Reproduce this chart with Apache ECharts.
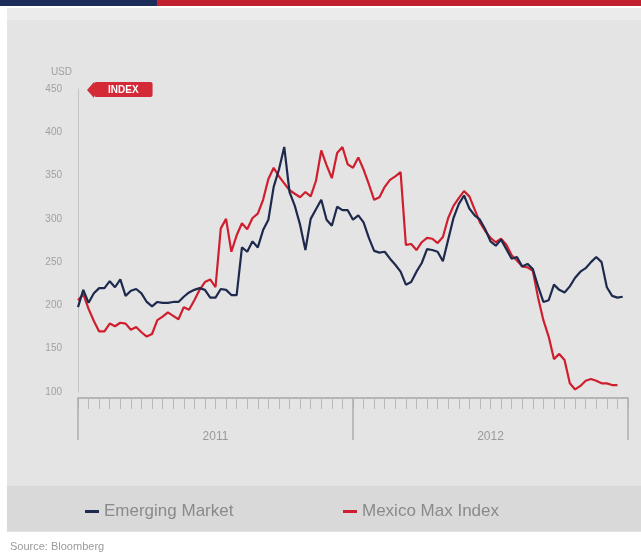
<!DOCTYPE html>
<html>
<head>
<meta charset="utf-8">
<script src="https://cdn.jsdelivr.net/npm/echarts@6/dist/echarts.min.js"></script>
<style>
  html, body { margin: 0; padding: 0; background: #ffffff; }
  #chart { width: 641px; height: 555px; }
</style>
</head>
<body>
<div id="chart"></div>
<script>
// Weekly index levels, two calendar years
const years = ['2011', '2012'];
const yTicks = [100, 150, 200, 250, 300, 350, 400, 450];

const emergingMarket = [
  198, 218, 203, 214, 220, 220, 228, 221, 230, 211,
  217, 219, 214, 204, 199, 204, 203, 203, 204, 204,
  210, 215, 218, 220, 218, 209, 209, 219, 218, 212,
  212, 267, 262, 274, 267, 287, 299, 337, 357, 383,
  331, 315, 293, 264, 300, 311, 322, 299, 292, 314,
  310, 310, 299, 304, 296, 278, 263, 261, 262, 254,
  247, 239, 224, 227, 239, 249, 265, 264, 262, 251,
  276, 301, 317, 327, 312, 304, 299, 288, 274, 269,
  276, 265, 254, 256, 245, 248, 242, 222, 204, 206,
  224, 218, 215, 222, 232, 239, 243, 250, 256, 250,
  221, 211, 209, 210
];

const maxIndex = [
  206, 213, 196, 182, 170, 170, 179, 176, 180, 179,
  172, 175, 169, 164, 167, 183, 187, 192, 188, 184,
  198, 195, 206, 218, 227, 230, 221, 289, 300, 262,
  281, 295, 288, 301, 306, 322, 346, 359, 349, 341,
  333, 329, 325, 331, 326, 344, 379, 362, 347, 376,
  383, 363, 359, 371, 357, 340, 322, 325, 337, 345,
  349, 354, 270, 271, 264, 273, 278, 277, 272, 279,
  301, 315, 324, 332, 326, 311, 296, 286, 278, 273,
  277, 270, 258, 252, 245, 244, 240, 209, 183, 164,
  138, 144, 137, 110, 103, 107, 113, 115, 113, 110,
  110, 108, 108
];

const seriesNames = ['Emerging Market', 'Mexico Max Index'];

// One category per week, Fridays from the first week of the first year
const weeks = [];
(function () {
  const d = new Date(Date.UTC(2011, 0, 7));
  for (let i = 0; i <= 104; i++) {
    weeks.push(d.toISOString().slice(0, 10));
    d.setUTCDate(d.getUTCDate() + 7);
  }
})();

const chart = echarts.init(document.getElementById('chart'), null, { renderer: 'canvas' });

const navy = '#1d2a4d';
const red = '#cf1f2e';
const labelGrey = '#a0a0a0';
const font = '"Liberation Sans", Arial, sans-serif';

chart.setOption({
  backgroundColor: '#ffffff',
  animation: false,
  graphic: [
    // chart panel
    { type: 'rect', z: -10, shape: { x: 7, y: 8, width: 634, height: 524 }, style: { fill: '#e4e4e4' } },
    { type: 'rect', z: -9, shape: { x: 7, y: 8, width: 634, height: 12 }, style: { fill: '#ebebeb' } },
    // legend band
    { type: 'rect', z: -9, shape: { x: 7, y: 486, width: 634, height: 45 }, style: { fill: '#d9d9d9' } },
    // header bars
    { type: 'rect', z: 10, shape: { x: 0, y: 0, width: 157, height: 6 }, style: { fill: '#1c2d5a' } },
    { type: 'rect', z: 10, shape: { x: 157, y: 0, width: 484, height: 6 }, style: { fill: '#c21f2f' } },
    // unit tag beside the value axis
    { type: 'polygon', z: 10, shape: { points: [[87, 90], [94, 82], [94, 98]] }, style: { fill: '#d42a38' } },
    {
      type: 'text', z: 10, left: 94, top: 82,
      style: {
        text: 'INDEX', fill: '#ffffff', font: 'bold 10px ' + font,
        backgroundColor: '#d42a38', padding: [3, 14, 2, 14], borderRadius: 2
      }
    },
    // source line
    {
      type: 'text', left: 10, top: 541,
      style: { text: 'Source: Bloomberg', fill: '#9a9a9a', font: '11px ' + font }
    }
  ],
  legend: [
    {
      data: [seriesNames[0]], left: 80, top: 498, icon: 'rect', itemWidth: 14, itemHeight: 3,
      textStyle: { color: '#8a8a8a', fontSize: 17, fontFamily: font }
    },
    {
      data: [seriesNames[1]], left: 338, top: 498, icon: 'rect', itemWidth: 14, itemHeight: 3,
      textStyle: { color: '#8a8a8a', fontSize: 17, fontFamily: font }
    }
  ],
  grid: { left: 78, right: 13, top: 89, bottom: 163, containLabel: false },
  xAxis: [
    {
      type: 'category', data: weeks, boundaryGap: false, offset: 6,
      axisLine: { show: true, lineStyle: { color: '#b5b5b5', width: 2 } },
      axisTick: { show: true, interval: 1, length: 11, lineStyle: { color: '#b8b8b8' } },
      axisLabel: { show: false },
      splitLine: { show: false }
    },
    {
      // year bands: boundary ticks separate the years, labels sit in the middle
      type: 'category', data: years, boundaryGap: true, position: 'bottom', offset: 6,
      axisLine: { show: false },
      axisTick: { show: true, interval: 0, length: 42, lineStyle: { color: '#adadad', width: 1.5 } },
      axisLabel: { show: true, interval: 0, color: '#999999', fontSize: 12, margin: 33, fontFamily: font },
      splitLine: { show: false }
    }
  ],
  yAxis: {
    type: 'value', min: yTicks[0], max: yTicks[yTicks.length - 1], interval: 50,
    name: 'USD', nameLocation: 'end', nameGap: 12,
    nameTextStyle: { color: labelGrey, fontSize: 10, align: 'right', padding: [0, 6, 0, 0] },
    axisLine: { show: true, lineStyle: { color: '#c4c4c4', width: 1 } },
    axisTick: { show: false },
    axisLabel: { color: labelGrey, fontSize: 10, margin: 16, fontFamily: font },
    splitLine: { show: false }
  },
  series: [
    {
      name: seriesNames[0], type: 'line', data: emergingMarket, xAxisIndex: 0,
      showSymbol: false, symbol: 'none', color: navy,
      lineStyle: { color: navy, width: 2.2 }, z: 3
    },
    {
      name: seriesNames[1], type: 'line', data: maxIndex, xAxisIndex: 0,
      showSymbol: false, symbol: 'none', color: red,
      lineStyle: { color: red, width: 2.2 }, z: 2
    }
  ]
});
</script>
</body>
</html>
